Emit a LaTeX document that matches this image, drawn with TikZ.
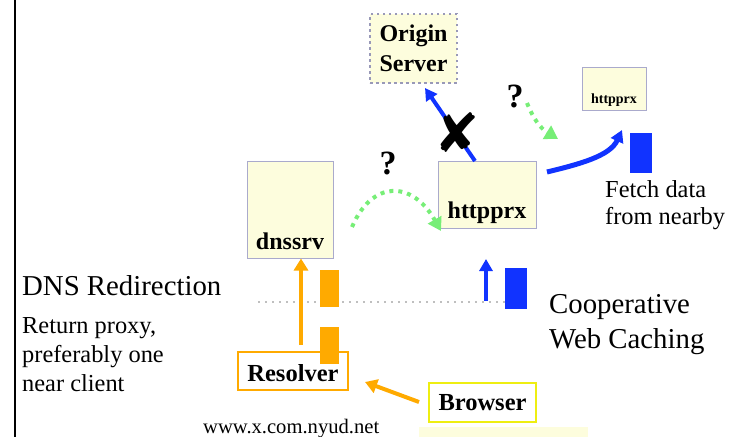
\documentclass[tikz,border=0pt]{standalone}
\usepackage{fontspec}
\setmainfont{Liberation Serif}
\newfontfamily\symfont{DejaVu Sans}
\usetikzlibrary{arrows.meta,calc,positioning}
\definecolor{boxfill}{HTML}{FDFDDD}
\definecolor{boxline}{HTML}{AAAACC}
\definecolor{orng}{HTML}{FFAA00}
\definecolor{blu}{HTML}{1133FF}
\definecolor{grn}{HTML}{77EE77}
\definecolor{ylw}{HTML}{EEEE11}

\tikzset{
  srvbox/.style={draw=boxline, line width=1pt, fill=boxfill, inner sep=0pt,
    font=\fontsize{24}{30}\selectfont\bfseries},
  hostbox/.style={fill=white, line width=2pt, inner sep=0pt,
    font=\fontsize{24.5}{30}\selectfont\bfseries},
  orngarrow/.style={draw=orng, line width=4pt, -{Triangle[length=12pt,width=14pt]}},
  bluarrow/.style={draw=blu, line width=4pt, -{Triangle[length=12pt,width=13pt]}},
  maybearrow/.style={draw=grn, line width=4pt, dash pattern=on 4pt off 5pt,
    -{Triangle[length=13pt,width=15pt]}},
  qmark/.style={font=\fontsize{34}{34}\selectfont\bfseries, inner sep=0pt},
  plain/.style={inner sep=0pt, align=left}
}

\begin{document}
\begin{tikzpicture}[x=1pt,y=-1pt]
  \useasboundingbox (0,0) rectangle (740,437);
  \draw[line width=2pt] (15,0) -- (15,437);
  \fill[boxfill] (419,427) rectangle (588,437);

  % caches and servers
  \node[srvbox, draw=boxline!90!black, line width=2pt, dash pattern=on 2.5pt off 3.5pt,
    align=center, minimum width=87pt, minimum height=69pt] (origin) at (413.5,48.5) {Origin\\Server};
  \node[srvbox, minimum width=86pt, minimum height=97pt,
    text height=88pt, text depth=9pt] (dnssrv) at (290,209.5) {dnssrv};
  \node[srvbox, minimum width=98pt, minimum height=67pt,
    text height=57pt, text depth=10pt] (proxy) at (487,194.5) {httpprx};
  \node[srvbox, font=\fontsize{14}{16}\selectfont\bfseries, minimum width=64pt, minimum height=43pt,
    text height=36pt, text depth=7pt] (peer) at (614,88.5) {httpprx};
  \node[hostbox, draw=orng, minimum width=110pt, minimum height=38pt,
    text height=29pt, text depth=9pt] (resolver) at (293,371) {Resolver};
  \node[hostbox, draw=ylw, minimum width=107pt, minimum height=39pt] (browser) at (482.5,402.5) {Browser};

  % split line and bars
  \draw[black!25, line width=2pt, dash pattern=on 2pt off 5pt] (258,302) -- (530,302);
  \fill[orng] (320,270) rectangle (339,307);
  \fill[orng] (320,327) rectangle (339,364);
  \fill[blu] (505,268) rectangle (527,309);
  \fill[blu] (630,133) rectangle (652,173);

  % arrows
  \coordinate (rs) at (301,345);
  \coordinate (bs) at (419,402);
  \coordinate (be) at (365,382);
  \draw[orngarrow] (rs) -- (rs |- dnssrv.south);
  \draw[orngarrow] (bs) -- (be);
  \coordinate (us) at (486,301);
  \coordinate (ue) at (486,259);
  \draw[bluarrow] (us) -- (ue);
  \coordinate (os) at (475,161);
  \coordinate (oe) at (425,88);
  \draw[bluarrow] (os) -- (oe);
  \node[font=\symfont\fontsize{54}{54}\selectfont, inner sep=0pt] (nope) at (457,133) {✘};
  \coordinate (fs) at (547,172);
  \coordinate (fe) at (622,130);
  \draw[bluarrow, line width=5pt] (fs) .. controls (580,164) and (610,156) .. (fe);

  % guesses
  \coordinate (ga) at (352,227);
  \coordinate (gb) at (441,231);
  \draw[maybearrow] (ga) .. controls (372,180) and (412,180) .. (gb);
  \node[qmark] (q1) at (388,163) {?};
  \coordinate (gc) at (527,103);
  \coordinate (gd) at (558,139);
  \draw[maybearrow] (gc) .. controls (533,118) and (540,128) .. (gd);
  \node[qmark] (q2) at (515,96) {?};

  % texts
  \node[anchor=base west, inner sep=0pt, font=\fontsize{28.8}{34}\selectfont] (dnstitle) at (22,295) {DNS Redirection};
  \node[plain, anchor=north west, font=\fontsize{24.4}{29}\selectfont] (dnsnote) at (22,317) {Return proxy,\\preferably one\\near client};
  \node[plain, anchor=north west, font=\fontsize{24.4}{27}\selectfont] (fetch) at (605,180) {Fetch data\\from nearby};
  \node[plain, anchor=north west, font=\fontsize{28.8}{35}\selectfont] (coop) at (549,294) {Cooperative\\Web Caching};
  \node[anchor=base west, inner sep=0pt, font=\fontsize{20.6}{24}\selectfont] (url) at (203,433) {www.x.com.nyud.net};
\end{tikzpicture}
\end{document}
